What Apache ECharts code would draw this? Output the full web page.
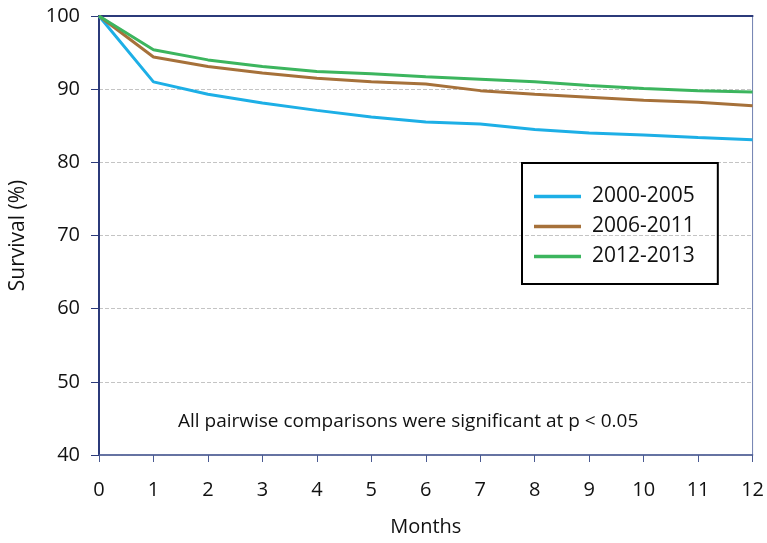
<!DOCTYPE html>
<html>
<head>
<meta charset="utf-8">
<script src="https://cdn.jsdelivr.net/npm/echarts@6/dist/echarts.min.js"></script>
<style>html,body{margin:0;padding:0;background:#fff;}#c{width:767px;height:543px;}</style>
</head>
<body>
<div id="c"></div>
<script>
const months = [0,1,2,3,4,5,6,7,8,9,10,11,12];
const s2000 = [100,91.0,89.3,88.1,87.1,86.2,85.5,85.25,84.5,84.0,83.75,83.4,83.1];
const s2006 = [100,94.4,93.1,92.2,91.5,91.0,90.7,89.8,89.3,88.9,88.5,88.2,87.75];
const s2012 = [100,95.4,94.0,93.1,92.4,92.1,91.7,91.35,91.0,90.5,90.1,89.8,89.6];
const seriesNames = ['2000-2005','2006-2011','2012-2013'];
const yTicks = [40,50,60,70,80,90,100];
const note = 'All pairwise comparisons were significant at p < 0.05';

const FONT = '"Open Sans", sans-serif';
const colors = ['#1DAFE6','#A6713A','#3CB55E'];
const pair = arr => months.map((m,i)=>[m,arr[i]]);
const chart = echarts.init(document.getElementById('c'));
chart.setOption({
  animation:false,
  backgroundColor:'#fff',
  textStyle:{fontFamily:FONT},
  grid:{left:99,right:14,top:16,bottom:88,show:true,borderColor:'#7080b0',borderWidth:1},
  xAxis:[{
    type:'value',min:0,max:12,interval:1,
    name:'Months',nameLocation:'middle',nameGap:62,
    nameTextStyle:{fontSize:20,color:'#111',fontFamily:FONT},
    axisLine:{show:true,lineStyle:{color:'#4A5A92',width:1.5}},
    axisTick:{show:true,length:7,lineStyle:{color:'#4A5A92'}},
    axisLabel:{fontSize:20,color:'#111',margin:25,fontFamily:FONT},
    splitLine:{show:false}
  },{
    type:'value',min:0,max:12,position:'top',
    axisLine:{show:true,lineStyle:{color:'#2B3A7A',width:2}},
    axisTick:{show:false},axisLabel:{show:false},splitLine:{show:false}
  }],
  yAxis:{
    type:'value',min:yTicks[0],max:yTicks[yTicks.length-1],interval:10,
    name:'Survival (%)',nameLocation:'middle',nameGap:70,
    nameTextStyle:{fontSize:21,color:'#111',fontFamily:FONT},
    axisLine:{show:true,lineStyle:{color:'#2B3A7A',width:2}},
    axisTick:{show:true,length:8,lineStyle:{color:'#2B3A7A'}},
    axisLabel:{fontSize:20,color:'#111',margin:19,fontFamily:FONT},
    splitLine:{show:true,lineStyle:{color:'#C4C4C4',type:'dashed',width:1}}
  },
  legend:{
    orient:'vertical',left:522,top:163,
    data:seriesNames,
    icon:'rect',
    borderColor:'#000',borderWidth:2,
    padding:[23,23,17,12],
    itemWidth:47,itemHeight:3.5,itemGap:9,
    textStyle:{fontSize:21,color:'#111',fontFamily:FONT,padding:[0,0,0,6]}
  },
  graphic:[{
    type:'text',
    left:178,top:412,
    style:{text:note,fontSize:19,fill:'#111',fontFamily:FONT}
  }],
  series:[
    {name:seriesNames[0],type:'line',data:pair(s2000),symbol:'none',lineStyle:{width:3,color:colors[0]},itemStyle:{color:colors[0]}},
    {name:seriesNames[1],type:'line',data:pair(s2006),symbol:'none',lineStyle:{width:3,color:colors[1]},itemStyle:{color:colors[1]}},
    {name:seriesNames[2],type:'line',data:pair(s2012),symbol:'none',lineStyle:{width:3,color:colors[2]},itemStyle:{color:colors[2]}}
  ]
});
</script>
</body>
</html>
